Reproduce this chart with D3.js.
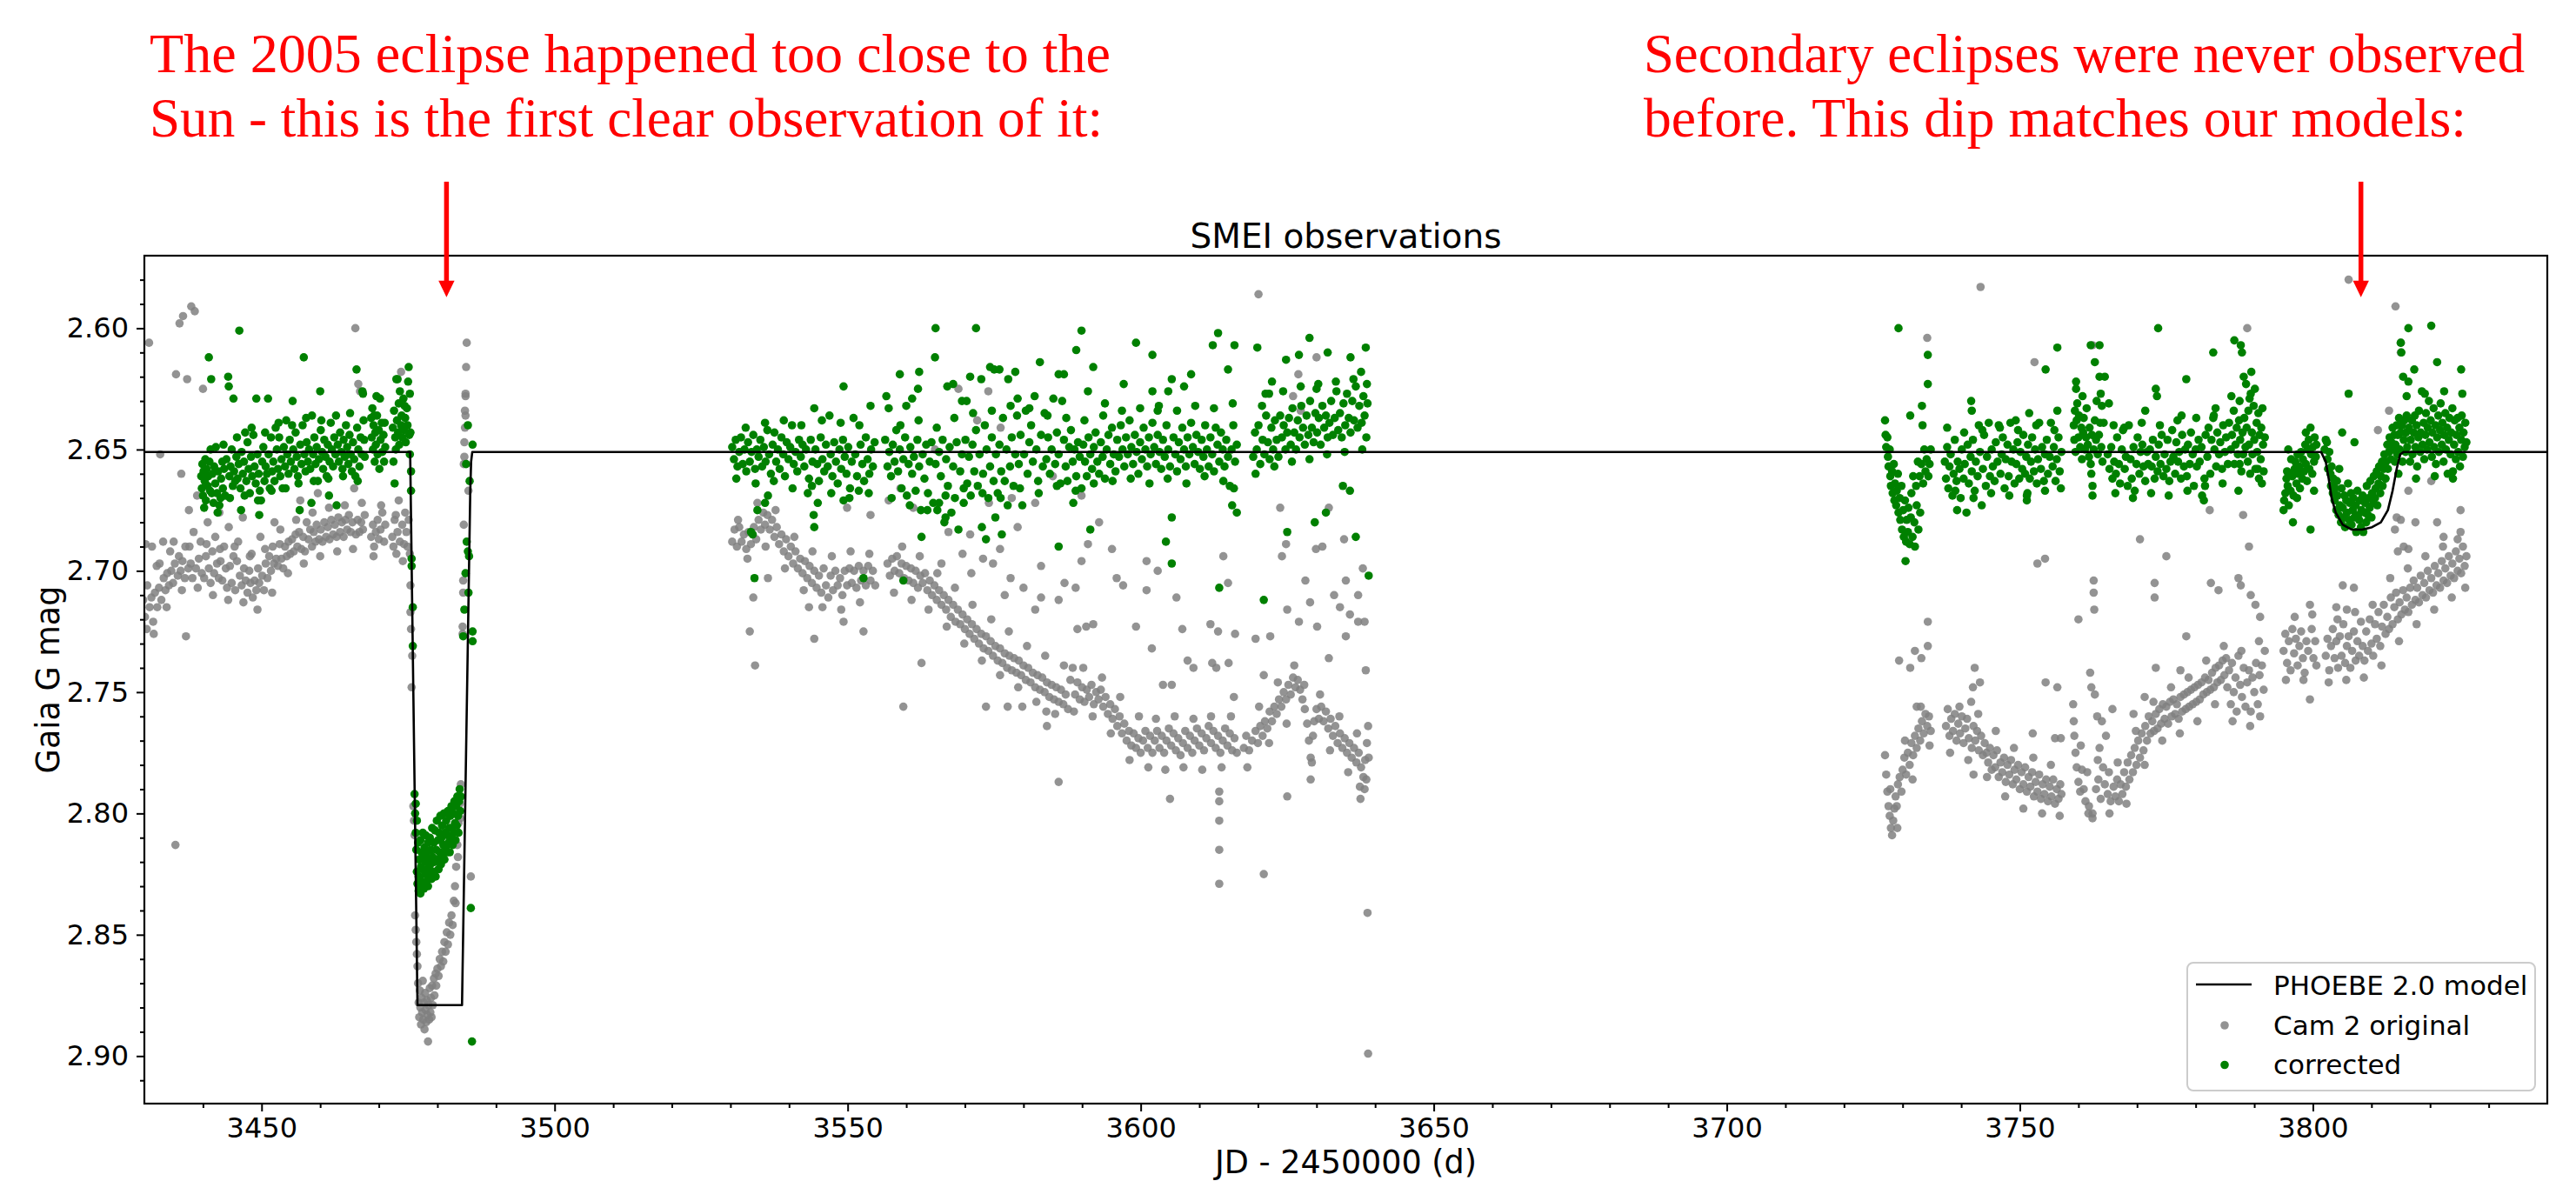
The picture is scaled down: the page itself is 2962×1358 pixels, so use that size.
<!DOCTYPE html>
<html>
<head>
<meta charset="utf-8">
<title>SMEI observations</title>
<script src="https://cdn.jsdelivr.net/npm/d3@7/dist/d3.min.js"></script>
<style>
  html, body { margin: 0; padding: 0; background: #ffffff; }
  svg { display: block; }
</style>
</head>
<body>
<svg id="chart" width="2962" height="1358" xmlns="http://www.w3.org/2000/svg"></svg>
<script>
// ---------------------------------------------------------------------------
// Photometry, JD - 2450000 (d) vs Gaia G mag.
// Each list is flat: jd, mag, jd, mag, ...
// ---------------------------------------------------------------------------

// Cam 2 original, first season (before the 2005 eclipse)
const camA = [
3429.2,2.716,3429.5,2.722,3429.8,2.712,3430.1,2.719,3430.2,2.689,3430.4,2.724,3430.8,2.606,3430.9,2.715,3431.2,2.711,3431.3,2.690,3431.5,2.721,3431.8,2.709,3432.1,2.698,3432.2,2.715,3432.5,2.707,3432.7,2.652,3432.9,2.712,3433.2,2.688,3433.3,2.703,3433.6,2.708,3433.9,2.701,3434.2,2.706,3434.4,2.692,3434.6,2.700,3434.9,2.705,3435.2,2.697,3435.3,2.813,3435.4,2.619,3435.7,2.702,3435.9,2.694,3436.0,2.598,3436.2,2.700,3436.3,2.660,3436.5,2.696,3436.6,2.595,3436.9,2.703,3437.0,2.690,3437.1,2.727,3437.3,2.621,3437.5,2.699,3437.6,2.675,3437.9,2.697,3438.0,2.591,3438.2,2.703,3438.4,2.684,3438.6,2.593,3438.8,2.699,3439.0,2.669,3439.3,2.695,3439.6,2.688,3439.8,2.701,3440.0,2.625,3440.2,2.703,3440.5,2.694,3440.8,2.680,3441.0,2.699,3441.3,2.705,3441.6,2.692,3441.9,2.701,3442.1,2.686,3442.4,2.697,3442.7,2.703,3442.8,2.676,3443.0,2.696,3443.3,2.704,3443.6,2.690,3443.9,2.699,3444.1,2.707,3444.4,2.682,3444.6,2.698,3444.9,2.705,3445.2,2.694,3445.5,2.708,3445.8,2.696,3446.0,2.688,3446.3,2.702,3446.6,2.706,3446.8,2.678,3447.0,2.699,3447.3,2.704,3447.6,2.709,3447.9,2.700,3448.1,2.705,3448.3,2.693,3448.5,2.711,3448.8,2.704,3449.1,2.708,3449.4,2.699,3449.6,2.705,3449.8,2.686,3450.1,2.702,3450.4,2.708,3450.7,2.697,3451.0,2.703,3451.3,2.694,3451.6,2.700,3451.9,2.690,3452.1,2.697,3452.2,2.680,3452.5,2.695,3452.8,2.698,3453.1,2.689,3453.4,2.695,3453.7,2.699,3454.0,2.690,3454.3,2.694,3454.6,2.688,3454.9,2.693,3455.2,2.687,3455.5,2.692,3455.8,2.685,3456.1,2.690,3456.4,2.684,3456.6,2.671,3456.8,2.691,3457.1,2.686,3457.4,2.692,3457.7,2.680,3458.0,2.687,3458.3,2.683,3458.6,2.690,3458.9,2.684,3459.2,2.688,3459.4,2.681,3459.6,2.668,3459.8,2.687,3460.1,2.683,3460.4,2.688,3460.7,2.680,3461.0,2.686,3461.3,2.682,3461.6,2.687,3461.9,2.679,3462.2,2.685,3462.5,2.681,3462.8,2.686,3463.1,2.678,3463.4,2.684,3463.7,2.680,3464.0,2.686,3464.3,2.679,3464.6,2.683,3464.9,2.677,3465.2,2.684,3465.5,2.680,3465.8,2.666,3466.0,2.600,3466.1,2.685,3466.4,2.679,3466.5,2.623,3466.7,2.684,3466.8,2.626,3467.0,2.680,3467.3,2.683,3467.6,2.677,3468.7,2.686,3469.0,2.681,3469.2,2.690,3469.5,2.684,3469.8,2.679,3470.0,2.687,3470.3,2.683,3470.6,2.676,3470.9,2.688,3471.1,2.681,3472.3,2.686,3472.5,2.690,3472.7,2.679,3473.0,2.693,3473.2,2.684,3473.4,2.671,3473.6,2.688,3473.8,2.618,3474.0,2.681,3474.3,2.689,3474.5,2.676,3474.7,2.684,3474.9,2.690,3475.1,2.679
];

// Cam 2 original, through the primary eclipse
const camEclipse = [
3475.3,2.693,3475.4,2.706,3475.4,2.717,3475.5,2.724,3475.6,2.748,3475.7,2.735,3475.9,2.797,3476.0,2.803,3476.1,2.809,3476.2,2.842,3476.3,2.848,3476.4,2.853,3476.5,2.858,3476.6,2.863,3476.7,2.870,3476.8,2.878,3476.9,2.884,3477.0,2.873,3477.1,2.880,3477.2,2.887,3477.3,2.876,3477.4,2.882,3477.5,2.869,3477.6,2.885,3477.7,2.878,3477.8,2.889,3477.9,2.874,3478.0,2.881,3478.1,2.886,3478.2,2.877,3478.3,2.883,3478.4,2.894,3478.5,2.879,3478.6,2.885,3478.7,2.872,3478.8,2.882,3478.9,2.876,3479.0,2.884,3479.1,2.871,3479.2,2.879,3479.4,2.868,3479.5,2.875,3479.7,2.866,3479.8,2.871,3480.0,2.864,3480.2,2.867,3480.4,2.860,3480.6,2.863,3480.8,2.857,3481.0,2.861,3481.2,2.853,3481.4,2.857,3481.6,2.849,3481.8,2.854,3482.0,2.845,3482.2,2.850,3482.4,2.842,3482.6,2.846,3482.8,2.836,3483.0,2.830,3483.1,2.837,3483.2,2.822,3483.4,2.813,3483.5,2.818,3483.6,2.804,3483.8,2.796,3483.9,2.802,3484.0,2.788,3484.3,2.723,3484.3,2.726,3484.4,2.709,3484.4,2.704,3484.5,2.681,3484.5,2.656,3484.6,2.653,3484.6,2.647,3484.7,2.641,3484.8,2.636,3484.7,2.634,3484.8,2.628,3484.8,2.627,3484.9,2.616,3485.0,2.606,3485.3,2.667,3485.7,2.826
];

// Cam 2 original, second season
const camB = [
3530.3,2.688,3530.7,2.683,3531.1,2.690,3531.5,2.682,3531.9,2.688,3532.3,2.685,3532.7,2.691,3533.1,2.684,3533.3,2.725,3533.5,2.689,3533.9,2.711,3534.0,2.682,3534.2,2.739,3534.4,2.687,3534.8,2.679,3535.2,2.683,3535.6,2.676,3535.9,2.681,3536.3,2.677,3536.4,2.703,3536.7,2.683,3537.1,2.679,3537.5,2.686,3537.9,2.682,3538.3,2.689,3538.7,2.685,3539.1,2.692,3539.5,2.687,3539.9,2.694,3540.3,2.690,3540.7,2.697,3541.1,2.692,3541.5,2.699,3541.9,2.695,3542.3,2.701,3542.7,2.696,3543.1,2.703,3543.4,2.715,3543.5,2.698,3543.9,2.705,3544.3,2.728,3544.3,2.700,3544.7,2.707,3545.1,2.702,3545.5,2.709,3545.9,2.699,3546.3,2.706,3546.7,2.711,3547.1,2.702,3547.5,2.708,3547.9,2.700,3548.3,2.706,3548.7,2.703,3549.1,2.710,3549.3,2.721,3549.5,2.700,3549.9,2.674,3549.9,2.706,3550.3,2.699,3550.7,2.705,3551.1,2.700,3551.5,2.707,3551.9,2.698,3552.3,2.704,3552.7,2.725,3552.7,2.700,3553.1,2.706,3553.5,2.698,3553.9,2.677,3553.9,2.704,3554.3,2.700,3554.7,2.706,
3556.8,2.697,3557.0,2.671,3557.2,2.702,3557.6,2.695,3558.0,2.700,3558.4,2.694,3558.8,2.701,3559.0,2.666,3559.2,2.697,3559.5,2.756,3559.6,2.703,3560.0,2.698,3560.4,2.704,3560.8,2.699,3561.2,2.674,3561.2,2.705,3561.6,2.700,3562.0,2.707,3562.4,2.702,3562.6,2.738,3562.8,2.705,3563.2,2.701,3563.6,2.708,3564.0,2.704,3564.4,2.710,3564.8,2.706,3564.9,2.650,3565.2,2.712,3565.6,2.708,3566.0,2.697,3566.0,2.714,3566.4,2.710,3566.8,2.716,3567.2,2.684,3567.2,2.712,3567.6,2.719,3568.0,2.714,3568.4,2.721,3568.8,2.716,3568.9,2.625,3569.2,2.722,3569.6,2.693,3569.6,2.718,3570.0,2.724,3570.4,2.720,3570.8,2.726,3570.9,2.685,3571.1,2.701,3571.2,2.722,3571.6,2.728,3572.0,2.724,3572.1,2.638,3572.4,2.730,3572.8,2.726,3573.1,2.695,3573.2,2.732,3573.6,2.756,3573.6,2.727,3574.0,2.626,3574.0,2.733,3574.1,2.672,3574.4,2.729,3574.8,2.697,3574.8,2.735,3575.2,2.731,3575.6,2.737,3576.0,2.732,3576.0,2.691,3576.1,2.641,3576.4,2.738,3576.8,2.710,3576.8,2.734,3577.2,2.740,3577.3,2.756,3577.6,2.735,3577.8,2.703,3578.0,2.670,3578.0,2.741,3578.4,2.736,3578.8,2.742,3579.0,2.682,3579.2,2.737,3579.6,2.743,3579.8,2.756,3580.0,2.707,3580.0,2.739,3580.4,2.745,3580.8,2.740,3581.2,2.746,3581.6,2.742,3582.0,2.672,3582.0,2.716,3582.0,2.748,3582.4,2.743,3582.8,2.749,3583.0,2.698,3583.0,2.711,3583.2,2.744,3583.6,2.750,3583.9,2.758,3584.0,2.764,3584.0,2.746,3584.4,2.752,3584.8,2.747,3585.0,2.661,3585.2,2.753,3585.6,2.748,3586.0,2.712,3586.0,2.787,3586.0,2.754,3586.4,2.749,3586.8,2.755,3587.0,2.705,3587.2,2.751,3587.6,2.757,3588.0,2.745,3588.4,2.740,3588.8,2.751,3588.9,2.707,3589.2,2.724,3589.2,2.746,3589.6,2.753,3589.9,2.669,3589.9,2.696,3590.0,2.748,3590.4,2.754,3590.7,2.723,3590.8,2.749,3591.0,2.689,3591.2,2.752,3591.6,2.747,3591.9,2.722,3592.0,2.755,3592.4,2.750,3592.8,2.753,3592.9,2.680,3593.2,2.749,3593.6,2.756,3594.0,2.752,3594.4,2.759,3594.8,2.755,3595.1,2.691,3595.2,2.761,3595.6,2.757,3595.9,2.703,3596.0,2.764,3596.4,2.760,3596.8,2.767,3597.0,2.706,3597.2,2.763,3597.6,2.770,3598.0,2.766,3598.4,2.772,3598.8,2.767,3599.2,2.723,3599.2,2.773,3599.6,2.769,3600.0,2.775,3600.4,2.770,3600.8,2.766,3601.0,2.696,3601.0,2.708,3601.2,2.773,3601.6,2.768,3601.9,2.732,3602.0,2.775,3602.4,2.770,3602.8,2.766,3602.9,2.700,3603.2,2.773,3603.6,2.768,3603.8,2.747,3604.0,2.775,3604.4,2.770,3604.8,2.765,3605.0,2.794,3605.2,2.772,3605.3,2.747,3605.6,2.767,3606.0,2.774,3606.1,2.711,3606.4,2.769,3606.8,2.776,3607.1,2.724,3607.2,2.771,3607.6,2.766,3608.0,2.773,3608.0,2.737,3608.4,2.768,3608.8,2.775,3609.0,2.740,3609.2,2.770,3609.6,2.765,3610.0,2.772,3610.4,2.767,3610.8,2.774,3611.2,2.769,3611.6,2.764,3611.9,2.722,3612.0,2.771,3612.2,2.738,3612.4,2.766,3612.8,2.773,3612.9,2.740,3613.2,2.725,3613.2,2.768,3613.4,2.791,3613.4,2.795,3613.4,2.803,3613.4,2.815,3613.4,2.829,3613.6,2.775,3614.0,2.770,3614.1,2.694,3614.4,2.765,3614.8,2.772,3614.9,2.705,3615.0,2.738,3615.2,2.767,3615.6,2.774,3615.9,2.752,3616.0,2.769,3616.1,2.726,3616.4,2.775,3617.6,2.773,3618.0,2.768,3618.5,2.774,3619.0,2.770,3619.6,2.728,3619.6,2.766,3620.0,2.771,3620.1,2.586,3620.4,2.764,3620.8,2.768,3621.0,2.743,3621.0,2.825,3621.2,2.762,3621.6,2.765,3622.0,2.758,3622.1,2.727,3622.4,2.762,3622.8,2.756,3623.2,2.759,3623.6,2.753,3623.8,2.674,3624.0,2.756,3624.1,2.694,3624.4,2.750,3624.8,2.689,3624.8,2.753,3625.0,2.716,3625.0,2.793,3625.2,2.747,3625.6,2.751,3626.0,2.744,3626.0,2.628,3626.4,2.748,3626.8,2.745,3626.9,2.619,3627.0,2.721,3627.2,2.749,3627.3,2.634,3627.6,2.753,3628.0,2.757,3628.1,2.704,3628.4,2.763,3628.7,2.770,3628.9,2.713,3629.0,2.777,3629.2,2.779,3629.4,2.768,3629.6,2.762,3629.9,2.691,3630.0,2.612,3630.0,2.757,3630.1,2.723,3630.4,2.761,3630.8,2.756,3631.0,2.690,3631.2,2.762,3631.6,2.758,3632.0,2.765,3632.1,2.674,3632.1,2.736,3632.4,2.761,3632.8,2.768,3633.0,2.710,3633.2,2.764,3633.6,2.771,3634.0,2.767,3634.0,2.715,3634.4,2.773,3634.7,2.687,3634.8,2.769,3635.0,2.704,3635.0,2.727,3635.2,2.775,3635.6,2.771,3635.7,2.718,3636.0,2.777,3636.4,2.773,3636.8,2.779,3637.1,2.710,3637.1,2.721,3637.2,2.775,3637.4,2.789,3637.5,2.794,3637.6,2.781,3637.9,2.699,3638.0,2.785,3638.2,2.721,3638.2,2.790,3638.4,2.741,3638.5,2.786,3638.6,2.771,3638.7,2.841,3638.8,2.899,3638.8,2.764,3638.9,2.777
];

// Cam 2 original, third season
const camC = [
3727.0,2.776,3727.2,2.784,3727.4,2.791,3727.6,2.797,3727.8,2.801,3728.0,2.806,3728.2,2.809,3728.4,2.803,3728.6,2.798,3728.8,2.793,3729.0,2.797,3729.2,2.788,3729.4,2.737,3729.5,2.785,3729.8,2.791,3730.0,2.782,3730.3,2.777,3730.6,2.784,3730.9,2.775,3731.2,2.780,3731.3,2.740,3731.5,2.771,3731.8,2.776,3732.1,2.733,3732.1,2.768,3732.4,2.756,3732.4,2.773,3732.7,2.765,3733.0,2.770,3733.2,2.736,3733.3,2.762,3733.6,2.767,3733.9,2.759,3734.2,2.604,3734.2,2.764,3734.3,2.721,3734.3,2.731,3734.5,2.760,3734.8,2.766,
3737.4,2.764,3737.7,2.757,3738.0,2.768,3738.3,2.761,3738.6,2.766,3738.9,2.759,3739.2,2.770,3739.5,2.763,3739.8,2.767,3740.1,2.760,3740.4,2.771,3740.7,2.765,3741.0,2.761,3741.3,2.769,3741.7,2.754,3741.8,2.773,3742.0,2.748,3742.1,2.784,3742.1,2.764,3742.3,2.740,3742.4,2.770,3742.7,2.766,3743.0,2.774,3743.2,2.746,3743.3,2.583,3743.4,2.768,3743.7,2.776,3744.0,2.771,3744.3,2.775,3744.6,2.779,3744.9,2.773,3745.2,2.782,3745.5,2.776,3745.8,2.781,3746.1,2.774,3746.4,2.785,3746.7,2.779,3747.0,2.783,3747.3,2.777,3747.6,2.787,3747.9,2.780,3748.2,2.784,3748.5,2.778,3748.8,2.788,3749.1,2.782,3749.4,2.786,3749.7,2.780,3750.0,2.790,3750.3,2.783,3750.6,2.788,3750.9,2.781,3751.2,2.791,3751.5,2.785,3751.8,2.789,3752.1,2.783,3752.2,2.767,3752.4,2.793,3752.5,2.614,3752.7,2.787,3753.0,2.697,3753.0,2.791,3753.3,2.784,3753.6,2.794,3753.9,2.788,3754.2,2.792,3754.3,2.695,3754.4,2.746,3754.5,2.786,3754.8,2.795,3755.1,2.789,3755.4,2.793,3755.7,2.786,3756.0,2.796,3756.0,2.769,3756.3,2.790,3756.4,2.748,3756.6,2.794,3756.9,2.788,3757.0,2.769,3757.1,2.792,
3759.1,2.755,3759.2,2.762,3759.3,2.768,3759.5,2.775,3759.7,2.781,3760.0,2.720,3760.0,2.787,3760.3,2.791,3760.6,2.782,3760.9,2.790,3761.2,2.795,3761.5,2.783,3761.8,2.797,3762.0,2.742,3762.2,2.748,3762.4,2.607,3762.4,2.800,3762.4,2.802,3762.6,2.704,3762.6,2.709,3762.7,2.716,3762.8,2.751,3763.0,2.790,3763.2,2.760,3763.4,2.786,3763.6,2.773,3763.8,2.794,3764.0,2.762,3764.2,2.781,3764.5,2.788,3764.7,2.768,3765.0,2.792,3765.2,2.783,3765.5,2.795,3765.8,2.757,3766.0,2.789,3766.3,2.793,3766.6,2.786,3766.9,2.795,3767.2,2.788,3767.5,2.792,3767.8,2.783,3768.1,2.789,3768.4,2.779,3768.7,2.786,3769.0,2.776,3769.3,2.783,3769.4,2.759,3769.6,2.773,3769.9,2.780,3770.2,2.770,3770.5,2.687,3770.5,2.777,3770.8,2.767,3771.1,2.774,3771.3,2.752,3771.4,2.764,3771.7,2.770,3772.0,2.760,3772.3,2.767,3772.6,2.762,3772.9,2.766,3773.0,2.705,3773.0,2.711,3773.2,2.740,3773.2,2.759,3773.5,2.765,3773.8,2.757,3774.1,2.763,3774.4,2.755,3774.7,2.761,3775.0,2.694,3775.0,2.756,3775.3,2.763,3775.6,2.754,3775.9,2.760,3776.2,2.753,3776.5,2.759,3776.8,2.755,3777.1,2.761,3777.4,2.741,3777.4,2.752,3777.7,2.758,3778.0,2.751,3778.3,2.757,3778.4,2.727,3778.6,2.750,3778.9,2.756,3779.2,2.749,3779.5,2.755,3779.8,2.748,3780.1,2.754,3780.4,2.747,3780.7,2.753,3781.0,2.746,3781.3,2.751,3781.6,2.744,3781.9,2.750,3782.2,2.745,3782.4,2.675,3782.5,2.749,3782.6,2.705,3782.8,2.742,3783.1,2.748,3783.4,2.740,3783.7,2.746,3783.9,2.708,3784.0,2.739,3784.3,2.745,3784.6,2.737,3784.9,2.743,3785.2,2.736,
3785.4,2.748,3785.7,2.741,3786.0,2.755,3786.2,2.738,3786.5,2.750,3786.8,2.744,3787.0,2.758,3787.3,2.703,3787.3,2.735,3787.6,2.747,3787.7,2.706,3787.9,2.752,3788.1,2.677,3788.2,2.740,3788.5,2.756,3788.8,2.600,3788.8,2.746,3789.1,2.690,3789.1,2.741,3789.4,2.710,3789.4,2.758,3789.7,2.744,3790.0,2.750,3790.2,2.714,3790.3,2.738,3790.6,2.755,3790.9,2.743,3791.0,2.719,3791.0,2.760,3791.3,2.739,3791.6,2.749,3791.8,2.733,
3795.0,2.733,3795.3,2.726,3795.6,2.738,3795.9,2.729,3796.2,2.741,3796.5,2.724,3796.8,2.734,3797.1,2.728,3797.4,2.739,3797.7,2.731,3798.0,2.725,3798.3,2.736,3798.6,2.742,3798.9,2.729,3799.2,2.733,3799.5,2.714,3799.5,2.753,3799.8,2.724,3800.1,2.736,3800.4,2.729,3800.6,2.739,
3802.2,2.735,3802.5,2.728,3802.8,2.741,3803.1,2.731,3803.4,2.724,3803.7,2.736,3804.0,2.715,3804.0,2.729,3804.3,2.740,3804.6,2.727,3804.9,2.735,3805.1,2.706,3805.2,2.722,3805.5,2.738,3805.8,2.716,3805.8,2.731,3806.1,2.580,3806.1,2.727,3806.4,2.740,3806.7,2.733,3807.0,2.707,3807.0,2.725,3807.3,2.737,3807.6,2.729,3807.9,2.735,3808.2,2.721,3808.5,2.731,3808.8,2.737,3809.1,2.725,3809.4,2.733,3809.7,2.720,3810.0,2.730,3810.3,2.735,3810.6,2.722,3810.9,2.728,3811.1,2.642,3811.2,2.717,3811.5,2.731,3811.8,2.723,3812.1,2.714,3812.4,2.726,3812.7,2.719,3813.0,2.634,3813.0,2.724,3813.3,2.711,3813.6,2.722,3813.9,2.715,3814.0,2.683,3814.1,2.591,3814.2,2.709,3814.3,2.678,3814.5,2.692,3814.5,2.720,3814.8,2.713,3815.0,2.606,3815.0,2.610,3815.0,2.679,3815.1,2.718,3815.4,2.708,3815.5,2.690,3815.7,2.716,3816.0,2.711,3816.3,2.667,3816.3,2.691,3816.3,2.717,3816.6,2.707,3816.9,2.714,3817.2,2.704,3817.5,2.680,3817.5,2.712,3817.8,2.707,3818.1,2.713,3818.4,2.702,3818.7,2.710,3819.0,2.705,3819.3,2.711,3819.6,2.700,3819.9,2.708,3820.2,2.663,3820.2,2.703,3820.5,2.709,3820.8,2.698,3821.1,2.706,3821.2,2.680,3821.4,2.701,3821.7,2.707,3822.0,2.696,3822.3,2.686,3822.3,2.704,3822.6,2.699,3822.9,2.705,3823.2,2.694,3823.5,2.702,3823.8,2.697,3824.1,2.703,3824.4,2.692,3824.7,2.687,3824.7,2.700,3825.0,2.695,3825.2,2.675,3825.3,2.701,3825.6,2.690,3825.9,2.698,3826.2,2.694
];

// Cam 2 original, further points on the edges of the band (all seasons)
const camSpread = [
3430.5,2.706,3431.6,2.726,3432.6,2.697,3433.8,2.715,3435.0,2.688,3436.4,2.708,3437.7,2.690,3439.1,2.707,3440.6,2.689,3441.7,2.710,3442.9,2.691,3444.3,2.712,3445.4,2.690,3446.9,2.713,3448.0,2.694,3449.3,2.716,3450.6,2.691,3451.8,2.709,3453.2,2.683,3454.5,2.701,3455.9,2.679,3457.2,2.697,3458.7,2.676,3460.0,2.694,3461.5,2.674,3462.9,2.692,3464.2,2.673,3465.6,2.691,3467.1,2.672,3469.1,2.694,3470.4,2.673,3472.9,2.677,3474.1,2.696,
3531.3,2.679,3532.9,2.695,3534.6,2.672,3536.0,2.690,3537.7,2.675,3539.3,2.699,3540.9,2.686,3542.5,2.708,3544.0,2.692,3545.7,2.715,3547.3,2.694,3548.9,2.716,3550.5,2.692,3552.1,2.713,3553.7,2.693,3557.9,2.709,3559.3,2.690,3560.9,2.712,3562.3,2.694,3563.8,2.716,3565.3,2.701,3566.9,2.723,3568.3,2.707,3569.9,2.730,3571.3,2.714,3572.9,2.737,3574.5,2.720,3576.0,2.743,3577.5,2.725,3579.1,2.748,3580.6,2.731,3582.2,2.754,3583.7,2.735,3585.4,2.759,3586.9,2.739,3588.6,2.758,3590.2,2.740,3591.8,2.760,3593.4,2.744,3594.9,2.767,3596.5,2.752,3598.1,2.778,3599.7,2.760,3601.3,2.781,3602.6,2.761,3604.2,2.782,3605.8,2.760,3607.3,2.781,3609.0,2.761,3610.5,2.782,3612.0,2.760,3613.8,2.781,3615.4,2.760,3618.2,2.781,3620.2,2.756,3621.9,2.771,3623.4,2.746,3624.9,2.763,3626.2,2.739,3627.9,2.747,3629.0,2.786,3630.6,2.751,3632.3,2.774,3633.9,2.760,3635.4,2.783,3636.9,2.767,3638.3,2.778,
3727.9,2.790,3729.1,2.806,3730.4,2.770,3731.7,2.786,3733.1,2.756,3734.6,2.772,3738.1,2.775,3739.7,2.756,3741.2,2.778,3742.9,2.759,3744.4,2.785,3745.9,2.766,3747.5,2.793,3749.0,2.773,3750.6,2.798,3752.3,2.777,3753.8,2.800,3755.3,2.780,3756.8,2.801,3760.4,2.772,3761.7,2.800,3763.3,2.778,3765.3,2.800,3766.7,2.779,3768.2,2.796,3769.8,2.766,3771.3,2.780,3772.8,2.754,3774.3,2.770,3775.8,2.748,3777.3,2.767,3778.8,2.744,3780.3,2.762,3781.8,2.737,3783.3,2.755,3784.8,2.731,3786.3,2.762,3787.8,2.733,3789.3,2.764,3790.8,2.729,3795.4,2.745,3796.9,2.719,3798.4,2.745,3799.9,2.718,3802.7,2.746,3804.2,2.720,3805.7,2.745,3807.2,2.717,3808.7,2.744,3810.2,2.714,3811.7,2.739,3813.2,2.703,3814.7,2.729,3816.2,2.699,3817.7,2.722,3819.2,2.694,3820.7,2.716,3822.2,2.690,3823.7,2.711,3825.2,2.684,3826.0,2.707
];

// Corrected, first season
const corA = [
3439.7,2.661,3439.8,2.666,3439.9,2.656,3440.0,2.669,3440.1,2.659,3440.3,2.663,3440.4,2.654,3440.5,2.671,3440.6,2.658,3440.8,2.665,3440.9,2.661,3441.0,2.612,3441.1,2.655,3441.2,2.667,3441.4,2.621,3441.5,2.668,3441.6,2.660,3441.8,2.672,3441.9,2.657,3442.1,2.664,3442.2,2.649,3442.4,2.668,3442.6,2.659,3442.8,2.673,3443.0,2.670,3443.1,2.662,3443.3,2.655,3443.4,2.666,3443.6,2.658,3443.8,2.669,3444.0,2.654,3444.3,2.620,3444.4,2.624,3444.5,2.661,3444.7,2.657,3444.9,2.650,3445.1,2.665,3445.2,2.629,3445.3,2.659,3445.5,2.663,3445.7,2.653,3445.9,2.662,3446.1,2.656,3446.2,2.601,3446.4,2.666,3446.5,2.675,3446.6,2.651,3446.8,2.660,3447.0,2.655,3447.2,2.643,3447.4,2.663,3447.6,2.647,3447.8,2.658,3448.0,2.668,3448.2,2.653,3448.4,2.661,3448.6,2.644,3448.8,2.657,3449.0,2.664,3449.1,2.629,3449.3,2.652,3449.5,2.660,3449.6,2.677,3449.7,2.667,3449.9,2.671,3450.1,2.655,3450.3,2.649,3450.5,2.663,3450.7,2.657,3450.9,2.660,3451.1,2.629,3451.2,2.652,3451.4,2.666,3451.6,2.645,3451.8,2.659,3452.0,2.655,3452.2,2.663,3452.4,2.641,3452.6,2.650,3452.8,2.658,3453.0,2.645,3453.2,2.661,3453.4,2.654,3453.6,2.666,3453.8,2.649,3454.0,2.657,3454.2,2.638,3454.4,2.652,3454.6,2.660,3454.8,2.646,3455.0,2.655,3455.3,2.630,3455.4,2.650,3455.6,2.658,3455.8,2.643,3456.0,2.653,3456.2,2.661,3456.5,2.675,3456.6,2.648,3456.8,2.656,3457.0,2.640,3457.2,2.612,3457.3,2.652,3457.5,2.659,3457.7,2.647,3457.9,2.655,3458.1,2.650,3458.3,2.658,3458.5,2.672,3458.6,2.636,3458.8,2.652,3459.0,2.645,3459.2,2.656,3459.4,2.649,3459.6,2.663,3459.8,2.654,3460.0,2.626,3460.1,2.642,3460.3,2.651,3460.5,2.658,3460.7,2.646,3460.9,2.653,3461.1,2.661,3461.3,2.648,3461.5,2.669,3461.6,2.655,3461.8,2.639,3462.0,2.650,3462.2,2.657,3462.4,2.645,3462.6,2.652,3462.8,2.673,3463.0,2.648,3463.2,2.655,3463.4,2.643,3463.6,2.651,3463.8,2.658,3464.0,2.646,3464.2,2.653,3464.4,2.640,3464.6,2.649,3464.8,2.656,3465.0,2.644,3465.2,2.652,3465.4,2.659,3465.6,2.647,3465.8,2.654,3466.0,2.661,3466.2,2.617,3466.3,2.641,3466.5,2.650,3466.7,2.657,3466.9,2.645,3467.1,2.652,3467.2,2.626,3467.3,2.627,3467.5,2.646,3467.6,2.653,3468.7,2.637,3468.8,2.645,3468.9,2.633,3469.0,2.650,3469.1,2.640,3469.2,2.636,3469.3,2.655,3469.4,2.643,3469.5,2.648,3469.7,2.636,3469.8,2.652,3470.0,2.642,3470.1,2.658,3470.2,2.629,3470.3,2.646,3470.5,2.639,3470.6,2.651,3470.8,2.644,3471.0,2.639,3471.1,2.649,3472.4,2.641,3472.5,2.655,3472.6,2.634,3472.7,2.664,3472.8,2.645,3473.0,2.621,3473.1,2.638,3473.2,2.621,3473.3,2.643,3473.4,2.631,3473.5,2.648,3473.6,2.626,3473.8,2.640,3473.9,2.636,3474.0,2.645,3474.2,2.629,3474.3,2.642,3474.5,2.637,3474.6,2.647,3474.8,2.633,3474.9,2.640,3475.0,2.622,3475.1,2.616,3475.2,2.644,3475.3,2.627,3475.4,2.643
];

// Corrected, through the primary eclipse
const corEclipse = [
3475.5,2.659,3475.5,2.667,3475.6,2.695,3475.6,2.698,3475.8,2.715,3475.8,2.731,3476.1,2.792,3476.2,2.800,3476.3,2.796,3476.3,2.808,3476.4,2.815,3476.5,2.824,3476.5,2.803,3476.6,2.829,3476.7,2.812,3476.8,2.826,3476.8,2.832,3476.9,2.819,3477.0,2.827,3477.1,2.811,3477.1,2.833,3477.2,2.822,3477.3,2.816,3477.4,2.829,3477.5,2.808,3477.5,2.823,3477.6,2.818,3477.7,2.831,3477.8,2.814,3477.9,2.825,3478.0,2.820,3478.0,2.809,3478.1,2.828,3478.2,2.816,3478.3,2.823,3478.4,2.812,3478.4,2.830,3478.5,2.819,3478.6,2.826,3478.7,2.810,3478.8,2.821,3478.9,2.815,3479.0,2.827,3479.1,2.806,3479.2,2.818,3479.3,2.824,3479.4,2.812,3479.5,2.820,3479.6,2.807,3479.7,2.826,3479.8,2.815,3479.9,2.803,3480.0,2.819,3480.1,2.811,3480.2,2.823,3480.3,2.808,3480.4,2.816,3480.5,2.801,3480.6,2.821,3480.7,2.810,3480.8,2.805,3480.9,2.817,3481.0,2.813,3481.1,2.800,3481.2,2.819,3481.3,2.808,3481.4,2.814,3481.5,2.803,3481.6,2.816,3481.7,2.809,3481.8,2.799,3481.9,2.812,3482.0,2.806,3482.1,2.816,3482.2,2.801,3482.3,2.810,3482.4,2.797,3482.5,2.806,3482.6,2.813,3482.7,2.800,3482.8,2.808,3482.9,2.795,3483.0,2.804,3483.1,2.811,3483.2,2.797,3483.3,2.805,3483.4,2.793,3483.5,2.801,3483.6,2.808,3483.7,2.795,3483.8,2.790,3483.9,2.799,3484.0,2.793,
3484.4,2.727,3484.6,2.716,3484.8,2.701,3485.0,2.688,3485.2,2.692,3485.3,2.709,3485.4,2.694,3485.5,2.663,3484.9,2.656,3485.2,2.640,3486.0,2.648,3486.0,2.725,3486.0,2.729,3485.7,2.839,3485.9,2.894
];

// Corrected, second season
const corB = [
3530.3,2.649,3530.6,2.654,3530.9,2.646,3531.2,2.657,3531.5,2.651,3531.8,2.645,3532.1,2.656,3532.4,2.650,3532.7,2.659,3533.0,2.647,3533.3,2.655,3533.5,2.684,3533.6,2.651,3533.8,2.685,3533.9,2.644,3534.1,2.703,3534.2,2.658,3534.5,2.650,3534.6,2.675,3534.8,2.653,3535.1,2.646,3535.4,2.657,3535.7,2.649,3535.9,2.672,3536.0,2.655,3536.3,2.642,3536.4,2.669,3536.6,2.652,3536.9,2.660,3537.2,2.648,3537.5,2.643,3537.8,2.655,3538.1,2.650,3538.4,2.658,3538.7,2.645,3539.0,2.652,3539.3,2.661,3539.6,2.647,3539.9,2.654,3540.2,2.649,3540.5,2.640,3540.8,2.656,3541.1,2.651,3541.4,2.659,3541.7,2.646,3542.0,2.653,3542.3,2.648,3542.6,2.657,3542.9,2.650,3543.2,2.668,3543.4,2.662,3543.7,2.646,3544.0,2.655,3544.2,2.677,3544.3,2.682,3544.3,2.633,3544.5,2.650,3544.8,2.656,3544.9,2.672,3545.1,2.663,3545.4,2.645,3545.7,2.654,3546.0,2.659,3546.3,2.648,3546.6,2.657,3546.9,2.636,3547.1,2.652,3547.4,2.661,3547.7,2.647,3548.0,2.655,3548.3,2.664,3548.6,2.650,3548.9,2.658,3549.2,2.646,3549.3,2.624,3549.3,2.671,3549.5,2.653,3549.8,2.660,3550.1,2.649,3550.4,2.666,3550.7,2.655,3551.0,2.637,3551.3,2.652,3551.6,2.661,3551.9,2.667,3552.2,2.648,3552.5,2.656,3552.7,2.703,3552.8,2.663,3553.1,2.645,3553.4,2.654,3553.7,2.660,3553.9,2.632,3554.0,2.650,3554.3,2.657,3554.6,2.647,
3556.4,2.646,3556.6,2.628,3556.8,2.657,3557.0,2.633,3557.1,2.651,3557.4,2.661,3557.7,2.648,3558.0,2.655,3558.3,2.642,3558.6,2.659,3558.9,2.619,3558.9,2.650,3559.2,2.666,3559.5,2.704,3559.5,2.654,3559.8,2.645,3560.0,2.632,3560.1,2.669,3560.4,2.656,3560.7,2.649,3561.0,2.629,3561.0,2.660,3561.3,2.653,3561.6,2.667,3561.9,2.646,3562.0,2.625,3562.2,2.618,3562.2,2.657,3562.5,2.675,3562.6,2.686,3562.8,2.652,3563.1,2.662,3563.4,2.648,3563.7,2.668,3564.0,2.655,3564.3,2.647,3564.6,2.672,3564.9,2.612,3565.0,2.600,3565.0,2.656,3565.3,2.675,3565.6,2.672,3565.6,2.651,3565.9,2.661,3566.2,2.646,3566.5,2.680,3566.7,2.678,3566.8,2.654,3567.0,2.624,3567.1,2.665,3567.4,2.649,3567.7,2.676,3568.0,2.623,3568.0,2.657,3568.3,2.670,3568.6,2.647,3568.9,2.683,3569.2,2.659,3569.5,2.630,3569.5,2.652,3569.8,2.672,3570.1,2.646,3570.3,2.630,3570.4,2.664,3570.7,2.653,3570.9,2.620,3571.0,2.669,3571.3,2.648,3571.6,2.659,3571.9,2.600,3571.9,2.642,3572.2,2.665,3572.5,2.652,3572.8,2.621,3572.9,2.682,3573.1,2.660,3573.4,2.640,3573.6,2.687,3573.7,2.650,3574.0,2.670,3574.3,2.616,3574.3,2.657,3574.6,2.645,3574.9,2.663,3575.0,2.617,3575.2,2.678,3575.3,2.652,3575.6,2.668,3575.9,2.617,3575.9,2.648,3576.2,2.659,3576.3,2.685,3576.5,2.637,3576.8,2.663,3577.1,2.650,3577.3,2.673,3577.4,2.621,3577.7,2.657,3578.0,2.645,3578.3,2.665,3578.6,2.618,3578.6,2.652,3578.9,2.636,3579.0,2.629,3579.2,2.656,3579.5,2.644,3579.8,2.673,3580.1,2.652,3580.4,2.634,3580.7,2.660,3581.0,2.647,3581.3,2.640,3581.6,2.655,3581.9,2.628,3582.2,2.650,3582.5,2.663,3582.8,2.614,3583.0,2.644,3583.3,2.657,3583.6,2.635,3583.9,2.654,3584.2,2.645,3584.5,2.660,3584.8,2.650,3585.1,2.629,3585.4,2.656,3585.7,2.643,3586.0,2.619,3586.0,2.652,3586.0,2.690,3586.3,2.664,3586.6,2.630,3586.9,2.619,3586.9,2.646,3587.2,2.657,3587.5,2.663,3587.8,2.649,3588.1,2.642,3588.4,2.655,3588.5,2.672,3588.7,2.650,3589.0,2.609,3589.0,2.661,3589.3,2.647,3589.6,2.653,3589.9,2.601,3589.9,2.666,3590.2,2.648,3590.5,2.655,3590.8,2.661,3591.0,2.626,3591.1,2.645,3591.4,2.683,3591.4,2.652,3591.7,2.658,3591.9,2.616,3592.0,2.649,3592.3,2.643,3592.6,2.655,3592.9,2.660,3593.2,2.647,3593.5,2.653,3593.9,2.631,3593.9,2.662,3594.2,2.650,3594.5,2.644,3594.8,2.656,3595.1,2.641,3595.4,2.652,3595.7,2.659,3596.0,2.646,3596.3,2.653,3596.6,2.640,3596.9,2.650,3597.1,2.623,3597.2,2.657,3597.5,2.645,3597.8,2.652,3598.1,2.638,3598.4,2.649,3598.7,2.656,3599.0,2.644,3599.2,2.606,3599.3,2.651,3599.6,2.660,3599.9,2.647,3600.2,2.654,3600.5,2.641,3600.8,2.650,3601.1,2.657,3601.4,2.645,3601.7,2.652,3602.0,2.611,3602.0,2.626,3602.0,2.639,3602.3,2.649,3602.6,2.656,3602.9,2.634,3602.9,2.644,3603.2,2.651,3603.5,2.658,3603.8,2.646,3604.1,2.653,3604.3,2.688,3604.4,2.640,3604.7,2.650,3604.7,2.626,3605.0,2.657,3605.3,2.697,3605.3,2.678,3605.3,2.621,3605.6,2.645,3605.9,2.652,3606.2,2.659,3606.5,2.647,3606.8,2.654,3607.1,2.641,3607.4,2.624,3607.4,2.650,3607.7,2.657,3608.0,2.645,3608.3,2.652,3608.6,2.619,3608.6,2.639,3608.9,2.649,3609.2,2.656,3609.5,2.644,3609.8,2.651,3610.1,2.658,3610.4,2.646,3610.7,2.653,3611.0,2.640,3611.3,2.650,3611.6,2.657,3611.9,2.645,3612.2,2.652,3612.3,2.607,3612.5,2.659,3612.8,2.641,3613.1,2.648,3613.2,2.602,3613.4,2.707,3613.4,2.655,3613.7,2.643,3614.0,2.650,3614.3,2.657,3614.6,2.646,3614.9,2.617,3614.9,2.653,3615.2,2.665,3615.5,2.650,3615.6,2.673,3615.8,2.640,3615.9,2.666,3616.0,2.607,3616.1,2.655,3616.4,2.676,3616.4,2.648,
3619.2,2.653,3619.5,2.643,3619.8,2.650,3619.9,2.608,3620.1,2.640,3620.4,2.656,3620.7,2.632,3620.8,2.646,3621.0,2.712,3621.1,2.652,3621.4,2.636,3621.7,2.647,3621.9,2.627,3622.0,2.654,3622.3,2.641,3622.4,2.622,3622.6,2.650,3622.9,2.638,3623.2,2.646,3623.5,2.653,3623.8,2.636,3624.1,2.645,3624.4,2.640,3624.7,2.650,3624.8,2.613,3625.0,2.684,3625.0,2.643,3625.3,2.637,3625.6,2.648,3625.9,2.633,3626.2,2.643,3626.5,2.650,3626.8,2.638,3627.0,2.611,3627.1,2.645,3627.4,2.632,3627.7,2.641,3628.0,2.648,3628.3,2.636,3628.6,2.644,3628.8,2.604,3628.9,2.630,3629.2,2.641,3629.5,2.647,3629.7,2.680,3629.8,2.635,3630.0,2.625,3630.1,2.643,3630.4,2.637,3630.7,2.648,3631.0,2.632,3631.3,2.641,3631.6,2.676,3631.6,2.636,3631.9,2.610,3631.9,2.645,3632.2,2.639,3632.5,2.630,3632.8,2.644,3633.1,2.637,3633.4,2.626,3633.7,2.642,3634.0,2.635,3634.3,2.645,3634.5,2.665,3634.6,2.631,3634.9,2.640,3635.2,2.627,3635.5,2.637,3635.7,2.667,3635.8,2.612,3635.8,2.643,3636.1,2.630,3636.4,2.638,3636.7,2.686,3636.7,2.624,3637.0,2.641,3637.3,2.632,3637.6,2.618,3637.7,2.639,3638.0,2.628,3638.2,2.636,3638.4,2.608,3638.5,2.645,3638.7,2.631,3638.9,2.702
];

// Corrected, third season (secondary eclipse near 3808)
const corC = [
3727.0,2.638,3727.1,2.644,3727.2,2.649,3727.4,2.645,3727.5,2.653,3727.6,2.657,3727.8,2.650,3727.9,2.661,3728.0,2.665,3728.2,2.659,3728.3,2.668,3728.5,2.656,3728.6,2.671,3728.7,2.664,3728.9,2.673,3729.0,2.667,3729.2,2.660,3729.3,2.600,3729.3,2.676,3729.5,2.670,3729.6,2.679,3729.8,2.665,3729.9,2.683,3730.1,2.675,3730.2,2.686,3730.4,2.671,3730.5,2.696,3730.6,2.688,3730.7,2.679,3730.9,2.684,3731.0,2.674,3731.2,2.689,3731.3,2.636,3731.4,2.678,3731.5,2.668,3731.7,2.686,3731.8,2.661,3732.0,2.680,3732.1,2.690,3732.3,2.665,3732.4,2.673,3732.6,2.655,3732.7,2.683,3732.9,2.661,3733.0,2.676,3733.2,2.656,3733.3,2.632,3733.4,2.640,3733.5,2.664,3733.7,2.650,3733.9,2.659,3734.1,2.654,3734.3,2.611,3734.3,2.623,3734.4,2.661,3734.6,2.656,3734.8,2.650,
3737.2,2.655,3737.4,2.662,3737.6,2.649,3737.8,2.666,3738.0,2.657,3738.2,2.652,3738.5,2.669,3738.7,2.660,3738.9,2.646,3739.2,2.663,3739.3,2.675,3739.4,2.655,3739.7,2.658,3739.9,2.670,3740.1,2.650,3740.4,2.662,3740.6,2.656,3740.9,2.676,3741.1,2.648,3741.3,2.664,3741.6,2.653,3741.7,2.630,3741.8,2.634,3741.8,2.659,3742.0,2.646,3742.3,2.667,3742.5,2.655,3742.8,2.661,3743.0,2.640,3743.2,2.651,3743.5,2.673,3743.7,2.658,3743.9,2.644,3744.2,2.665,3744.4,2.653,3744.7,2.639,3744.9,2.661,3745.2,2.650,3745.4,2.657,3745.7,2.663,3745.9,2.647,3746.2,2.655,3746.4,2.640,3746.7,2.660,3746.9,2.652,3747.1,2.645,3747.4,2.666,3747.6,2.654,3747.9,2.648,3748.1,2.661,3748.4,2.639,3748.6,2.655,3748.9,2.650,3749.1,2.664,3749.3,2.638,3749.4,2.656,3749.6,2.647,3749.9,2.662,3750.1,2.651,3750.4,2.658,3750.6,2.644,3750.9,2.660,3751.1,2.653,3751.2,2.669,3751.2,2.671,3751.4,2.648,3751.6,2.635,3751.7,2.662,3751.9,2.655,3752.1,2.645,3752.4,2.659,3752.6,2.650,3752.9,2.664,3753.1,2.654,3753.3,2.639,3753.6,2.658,3753.8,2.649,3754.1,2.663,3754.3,2.652,3754.4,2.617,3754.6,2.646,3754.8,2.660,3755.1,2.653,3755.3,2.639,3755.6,2.657,3755.8,2.649,3756.1,2.663,3756.3,2.654,3756.4,2.608,3756.4,2.634,3756.6,2.645,3756.8,2.659,3757.1,2.651,
3759.2,2.640,3759.3,2.646,3759.4,2.634,3759.5,2.651,3759.6,2.622,3759.6,2.625,3759.7,2.638,3759.8,2.631,3760.0,2.645,3760.1,2.636,3760.3,2.649,3760.5,2.641,3760.6,2.654,3760.8,2.643,3760.9,2.637,3761.1,2.650,3761.3,2.645,3761.4,2.633,3761.6,2.648,3761.8,2.653,3761.9,2.641,3762.1,2.607,3762.1,2.656,3762.3,2.644,3762.4,2.665,3762.4,2.669,3762.6,2.650,3762.8,2.614,3762.8,2.638,3763.0,2.646,3763.1,2.630,3763.3,2.652,3763.5,2.644,3763.6,2.607,3763.6,2.620,3763.7,2.639,3763.9,2.649,3764.0,2.632,3764.1,2.655,3764.3,2.639,3764.5,2.620,
3765.0,2.652,3765.2,2.631,3765.3,2.658,3765.6,2.649,3765.8,2.662,3766.0,2.640,3766.1,2.655,3766.4,2.660,3766.6,2.645,3766.9,2.656,3767.1,2.664,3767.4,2.650,3767.6,2.642,3767.9,2.658,3768.1,2.653,3768.4,2.665,3768.6,2.640,3768.9,2.654,3769.1,2.662,3769.4,2.649,3769.6,2.667,3769.9,2.656,3770.1,2.645,3770.4,2.660,3770.6,2.651,3770.9,2.648,3771.1,2.657,3771.4,2.634,3771.4,2.663,3771.7,2.651,3771.9,2.656,
3772.2,2.650,3772.5,2.657,3772.7,2.646,3773.0,2.662,3773.2,2.625,3773.2,2.653,3773.4,2.628,3773.5,2.659,3773.6,2.600,3773.7,2.648,3774.0,2.656,3774.2,2.644,3774.5,2.661,3774.7,2.652,3775.0,2.658,3775.2,2.646,3775.5,2.663,3775.7,2.655,3776.0,2.642,3776.2,2.653,3776.5,2.660,3776.7,2.647,3777.0,2.655,3777.2,2.651,3777.5,2.662,3777.6,2.636,3777.7,2.644,3778.0,2.657,3778.2,2.650,3778.4,2.621,3778.5,2.661,3778.7,2.648,3779.0,2.656,3779.2,2.643,3779.5,2.652,3779.7,2.665,3780.0,2.650,3780.2,2.657,3780.5,2.646,3780.7,2.655,3781.0,2.649,3781.1,2.669,3781.4,2.671,3781.5,2.662,3781.7,2.644,3782.0,2.653,3782.2,2.641,3782.5,2.660,3782.7,2.646,3783.0,2.610,3783.0,2.637,3783.2,2.650,3783.4,2.633,3783.5,2.657,3783.7,2.643,3784.0,2.652,3784.2,2.647,3784.5,2.658,3784.7,2.640,3785.0,2.651,3785.2,2.645,3785.5,2.656,3785.7,2.639,3786.0,2.650,3786.2,2.644,3786.5,2.634,3786.6,2.605,3786.6,2.656,3786.8,2.648,3787.0,2.641,3787.2,2.652,3787.3,2.667,3787.4,2.638,3787.5,2.630,3787.6,2.646,3787.7,2.607,3787.8,2.659,3787.9,2.610,3788.0,2.643,3788.1,2.652,3788.2,2.620,3788.3,2.637,3788.5,2.649,3788.6,2.623,3788.7,2.641,3788.9,2.655,3789.0,2.634,3789.1,2.648,3789.3,2.660,3789.4,2.627,3789.5,2.618,3789.6,2.643,3789.7,2.652,3789.9,2.632,3790.0,2.646,3790.1,2.625,3790.2,2.658,3790.4,2.639,3790.5,2.651,3790.7,2.635,3790.8,2.662,3790.9,2.644,3791.1,2.654,3791.2,2.641,3791.3,2.664,3791.5,2.648,3791.6,2.659,3791.8,2.645,
3795.0,2.675,3795.1,2.671,3795.3,2.668,3795.5,2.662,3795.6,2.659,3795.7,2.665,3795.9,2.673,3796.0,2.660,3796.2,2.667,3796.3,2.654,3796.5,2.661,3796.6,2.680,3796.7,2.669,3796.9,2.658,3797.0,2.655,3797.2,2.664,3797.4,2.652,3797.5,2.660,3797.7,2.657,3797.8,2.666,3798.0,2.651,3798.2,2.662,3798.3,2.654,3798.5,2.659,3798.7,2.648,3798.8,2.656,3799.0,2.663,3799.1,2.650,3799.3,2.646,3799.4,2.658,3799.6,2.641,3799.6,2.683,3799.7,2.652,3799.9,2.660,3800.0,2.649,3800.2,2.655,3800.3,2.645,3800.5,2.653,3800.6,2.648,
3802.0,2.650,3802.2,2.646,3802.4,2.647,3802.5,2.654,3802.6,2.658,3802.8,2.651,3803.0,2.660,3803.1,2.665,3803.2,2.657,3803.4,2.668,3803.5,2.662,3803.7,2.671,3803.8,2.666,3804.0,2.675,3804.1,2.663,3804.2,2.669,3804.4,2.677,3804.5,2.658,3804.6,2.673,3804.8,2.680,3804.9,2.666,3805.0,2.643,3805.1,2.674,3805.3,2.678,3805.4,2.669,3805.5,2.682,3805.7,2.671,3805.8,2.676,3806.0,2.664,3806.1,2.627,3806.2,2.679,3806.3,2.672,3806.5,2.668,3806.6,2.681,3806.8,2.675,3806.9,2.670,3807.1,2.647,3807.1,2.678,3807.3,2.673,3807.4,2.684,3807.6,2.667,3807.7,2.677,3807.9,2.679,3808.0,2.671,3808.2,2.682,3808.3,2.675,3808.5,2.669,3808.6,2.684,3808.8,2.676,3808.9,2.672,3809.1,2.680,3809.2,2.665,3809.4,2.677,3809.5,2.670,3809.7,2.674,3809.8,2.663,3810.0,2.678,3810.1,2.668,3810.3,2.672,3810.4,2.661,3810.6,2.670,3810.7,2.666,3810.9,2.659,3811.0,2.673,3811.2,2.664,3811.3,2.657,3811.5,2.668,3811.6,2.661,3811.8,2.655,3811.9,2.665,3812.1,2.658,3812.2,2.652,3812.4,2.662,3812.5,2.655,3812.7,2.648,3812.8,2.658,3813.0,2.651,3813.1,2.645,3813.3,2.654,3813.4,2.647,3813.6,2.641,3813.7,2.650,3813.9,2.644,
3814.0,2.655,3814.1,2.648,3814.3,2.640,3814.4,2.652,3814.5,2.644,3814.7,2.637,3814.8,2.650,3815.0,2.606,3815.0,2.643,3815.1,2.610,3815.2,2.640,3815.3,2.655,3815.4,2.620,3815.5,2.646,3815.6,2.638,3815.8,2.651,3815.9,2.643,3816.0,2.636,3816.1,2.649,3816.3,2.600,3816.3,2.622,3816.4,2.641,3816.6,2.655,3816.7,2.646,3816.9,2.638,3817.0,2.652,3817.2,2.643,3817.3,2.617,3817.4,2.636,3817.5,2.649,3817.7,2.640,3817.8,2.657,3818.0,2.645,3818.1,2.634,3818.3,2.651,3818.4,2.643,3818.6,2.626,3818.7,2.648,3818.9,2.639,3819.0,2.654,3819.2,2.644,3819.3,2.635,3819.5,2.650,3819.6,2.641,3819.8,2.630,3819.9,2.647,3820.1,2.638,3820.2,2.599,3820.3,2.653,3820.4,2.643,3820.6,2.633,3820.7,2.649,3820.9,2.640,3821.0,2.656,3821.2,2.614,3821.2,2.645,3821.4,2.636,3821.5,2.651,3821.7,2.642,3821.8,2.631,3822.0,2.648,3822.1,2.639,3822.3,2.655,3822.4,2.644,3822.6,2.635,3822.7,2.650,3822.9,2.641,3823.0,2.660,3823.2,2.646,3823.3,2.637,3823.5,2.652,3823.6,2.643,3823.8,2.633,3823.9,2.659,3824.1,2.648,3824.2,2.638,3824.4,2.654,3824.5,2.644,3824.7,2.637,3824.8,2.651,3825.0,2.641,3825.1,2.657,3825.3,2.617,3825.3,2.646,3825.4,2.636,3825.6,2.653,3825.7,2.643,3825.9,2.649,3826.0,2.639,3826.2,2.647
];

// Corrected, further points on the edges of the band (all seasons)
const corSpread = [
3440.2,2.674,3441.3,2.650,3442.5,2.676,3443.5,2.648,3444.6,2.670,3445.8,2.645,3447.1,2.669,3448.3,2.641,3449.4,2.671,3450.6,2.643,3451.7,2.667,3452.9,2.639,3454.1,2.666,3455.2,2.640,3456.3,2.664,3457.6,2.637,3458.9,2.663,3460.2,2.638,3461.4,2.662,3462.7,2.636,3463.9,2.661,3465.1,2.635,3466.4,2.663,3467.4,2.638,3469.6,2.628,3470.9,2.655,3472.9,2.650,3474.4,2.632,3475.3,2.652,
3531.0,2.662,3532.6,2.641,3534.3,2.664,3535.9,2.639,3537.4,2.663,3539.1,2.638,3540.6,2.666,3542.1,2.640,3543.9,2.665,3545.6,2.638,3547.2,2.668,3548.8,2.639,3550.3,2.670,3552.0,2.640,3553.6,2.668,3557.5,2.670,3559.0,2.640,3560.6,2.673,3562.1,2.638,3563.6,2.675,3565.2,2.641,3566.7,2.669,3568.2,2.637,3569.8,2.666,3571.4,2.635,3573.0,2.668,3574.6,2.634,3576.1,2.670,3577.8,2.632,3579.4,2.666,3581.0,2.633,3582.6,2.668,3584.1,2.636,3585.7,2.665,3587.3,2.637,3588.9,2.667,3590.4,2.638,3592.0,2.664,3593.6,2.636,3595.2,2.663,3596.8,2.634,3598.3,2.662,3599.9,2.633,3601.5,2.664,3603.1,2.632,3604.6,2.662,3606.2,2.634,3607.8,2.664,3609.3,2.632,3610.9,2.661,3612.5,2.633,3614.1,2.663,3615.7,2.631,3619.6,2.660,3621.3,2.627,3622.8,2.657,3624.3,2.626,3625.8,2.655,3627.3,2.624,3628.8,2.654,3630.3,2.623,3631.8,2.652,3633.3,2.622,3634.8,2.651,3636.3,2.621,3637.8,2.650,3638.6,2.623,
3737.6,2.641,3739.0,2.667,3740.5,2.643,3742.1,2.670,3743.6,2.642,3745.1,2.668,3746.6,2.641,3748.2,2.669,3749.7,2.642,3751.3,2.668,3752.8,2.640,3754.3,2.667,3755.9,2.642,3757.0,2.666,3760.7,2.628,3762.2,2.660,3763.8,2.627,3766.3,2.668,3767.8,2.641,3769.3,2.670,3770.8,2.639,3772.4,2.668,3773.9,2.640,3775.4,2.669,3776.9,2.638,3778.6,2.667,3780.1,2.637,3781.6,2.665,3783.1,2.636,3784.6,2.664,3786.1,2.628,3787.5,2.656,3789.2,2.629,3790.6,2.658,3791.4,2.633,3795.8,2.650,3797.3,2.670,3798.8,2.643,3800.2,2.667,3814.6,2.660,3816.0,2.628,3817.6,2.662,3819.1,2.627,3820.8,2.661,3822.4,2.626,3823.9,2.662,3825.5,2.627
];

// PHOEBE 2.0 model light curve
const modelJD  = [3430, 3475.35, 3476.6, 3484.2, 3485.6, 3485.75, 3485.95, 3801.4, 3802.2, 3802.7, 3803.2, 3803.9, 3805.1, 3806.6, 3808.4, 3810.1, 3811.6, 3812.8, 3813.6, 3814.3, 3814.9, 3815.5, 3840];
const modelMag = [2.651, 2.651, 2.879, 2.879, 2.668, 2.655, 2.651, 2.651, 2.655, 2.662, 2.670, 2.676, 2.681, 2.683, 2.683, 2.682, 2.680, 2.675, 2.667, 2.658, 2.652, 2.651, 2.651];

// Axis ticks and labels
const xTickValues = [3450, 3500, 3550, 3600, 3650, 3700, 3750, 3800];
const yTickValues = [2.60, 2.65, 2.70, 2.75, 2.80, 2.85, 2.90];
const seriesNames = ["PHOEBE 2.0 model", "Cam 2 original", "corrected"];
const chartTitle = "SMEI observations";
const xLabel = "JD - 2450000 (d)";
const yLabel = "Gaia G mag";

// Notes above the axes, with the day each arrow points at
const noteLeft  = ["The 2005 eclipse happened too close to the", "Sun - this is the first clear observation of it:"];
const noteRight = ["Secondary eclipses were never observed", "before. This dip matches our models:"];
const arrowJD = [3481.55, 3808.2];
const arrowTailMag = 2.5396;
const arrowTipMag = 2.5872;

// ---------------------------------------------------------------------------
// Drawing
// ---------------------------------------------------------------------------
const W = 2962, H = 1358;
const box = { left: 166, right: 2929, top: 294, bottom: 1269 };
const FONT = "'DejaVu Sans', Verdana, sans-serif";
const SERIF = "'Liberation Serif', 'Times New Roman', serif";
const DOT_R = 4.8;

const x = d3.scaleLinear().domain([3430, 3840]).range([box.left, box.right]);
const y = d3.scaleLinear().domain([2.5701, 2.9196]).range([box.top, box.bottom]);

const svg = d3.select("#chart");
svg.append("rect").attr("width", W).attr("height", H).attr("fill", "#ffffff");

svg.append("defs").append("clipPath").attr("id", "plot-area")
  .append("rect")
  .attr("x", box.left).attr("y", box.top)
  .attr("width", box.right - box.left).attr("height", box.bottom - box.top);

const toPoints = flat => d3.range(0, flat.length, 2).map(i => [flat[i], flat[i + 1]]);
const originalPts = [camA, camEclipse, camB, camC, camSpread].flatMap(toPoints);
const correctedPts = [corA, corEclipse, corB, corC, corSpread].flatMap(toPoints);

const plot = svg.append("g").attr("clip-path", "url(#plot-area)");

plot.append("g")
  .attr("fill", "#808080").attr("fill-opacity", 0.85)
  .selectAll("circle").data(originalPts).join("circle")
  .attr("cx", d => x(d[0])).attr("cy", d => y(d[1])).attr("r", DOT_R);

plot.append("g")
  .attr("fill", "#008000")
  .selectAll("circle").data(correctedPts).join("circle")
  .attr("cx", d => x(d[0])).attr("cy", d => y(d[1])).attr("r", DOT_R);

plot.append("path")
  .datum(d3.zip(modelJD, modelMag))
  .attr("fill", "none").attr("stroke", "#000000").attr("stroke-width", 2.6)
  .attr("stroke-linejoin", "round")
  .attr("d", d3.line().x(d => x(d[0])).y(d => y(d[1])));

// Axes: major ticks with labels, minor ticks without
function styleAxis(g, fontSize) {
  g.select(".domain").remove();
  g.attr("font-family", FONT).attr("font-size", fontSize);
  g.selectAll(".tick line").attr("stroke", "#000000").attr("stroke-width", 2);
  g.selectAll(".tick text").attr("fill", "#000000");
}

const xMinorValues = d3.range(3440, 3840, 10).filter(v => !xTickValues.includes(v));
const yMinorValues = d3.range(258, 292).map(v => v / 100).filter(v => Math.round(v * 100) % 5 !== 0);

svg.append("g").attr("transform", `translate(0,${box.bottom})`)
  .call(d3.axisBottom(x).tickValues(xMinorValues).tickFormat("").tickSize(5).tickSizeOuter(0))
  .call(g => styleAxis(g, 32));
svg.append("g").attr("transform", `translate(0,${box.bottom})`)
  .call(d3.axisBottom(x).tickValues(xTickValues).tickFormat(d3.format("d")).tickSize(9).tickPadding(7).tickSizeOuter(0))
  .call(g => styleAxis(g, 32));

svg.append("g").attr("transform", `translate(${box.left},0)`)
  .call(d3.axisLeft(y).tickValues(yMinorValues).tickFormat("").tickSize(5).tickSizeOuter(0))
  .call(g => styleAxis(g, 32));
svg.append("g").attr("transform", `translate(${box.left},0)`)
  .call(d3.axisLeft(y).tickValues(yTickValues).tickFormat(d3.format(".2f")).tickSize(9).tickPadding(9).tickSizeOuter(0))
  .call(g => styleAxis(g, 32));

// Frame
svg.append("rect")
  .attr("x", box.left).attr("y", box.top)
  .attr("width", box.right - box.left).attr("height", box.bottom - box.top)
  .attr("fill", "none").attr("stroke", "#000000").attr("stroke-width", 2.2);

// Title and axis labels
svg.append("text").attr("x", (box.left + box.right) / 2).attr("y", 285)
  .attr("text-anchor", "middle").attr("font-family", FONT).attr("font-size", 39)
  .attr("fill", "#000000").text(chartTitle);

svg.append("text").attr("x", (box.left + box.right) / 2).attr("y", 1349)
  .attr("text-anchor", "middle").attr("font-family", FONT).attr("font-size", 36.5)
  .attr("fill", "#000000").text(xLabel);

svg.append("text")
  .attr("transform", `translate(68,${(box.top + box.bottom) / 2}) rotate(-90)`)
  .attr("text-anchor", "middle").attr("font-family", FONT).attr("font-size", 36.5)
  .attr("fill", "#000000").text(yLabel);

// Legend
const legend = svg.append("g").attr("font-family", FONT).attr("font-size", 31);
legend.append("rect")
  .attr("x", 2515).attr("y", 1107).attr("width", 400).attr("height", 147).attr("rx", 7)
  .attr("fill", "#ffffff").attr("fill-opacity", 0.8)
  .attr("stroke", "#cccccc").attr("stroke-width", 2);
legend.append("line")
  .attr("x1", 2525).attr("x2", 2589).attr("y1", 1132).attr("y2", 1132)
  .attr("stroke", "#000000").attr("stroke-width", 2.6);
legend.append("circle").attr("cx", 2558).attr("cy", 1179).attr("r", DOT_R)
  .attr("fill", "#808080").attr("fill-opacity", 0.85);
legend.append("circle").attr("cx", 2558).attr("cy", 1224.5).attr("r", DOT_R)
  .attr("fill", "#008000");
legend.selectAll("text.entry").data(seriesNames).join("text")
  .attr("class", "entry")
  .attr("x", 2614).attr("y", (d, i) => 1144 + i * 45.5)
  .attr("fill", "#000000").text(d => d);

// Red notes and arrows; each line is fitted to its measured width
const noteWidthsLeft = [1105, 1096];
const noteWidthsRight = [1013, 946];
const notes = svg.append("g").attr("font-family", SERIF).attr("font-size", 64).attr("fill", "#ff0000");
notes.selectAll("text.left").data(noteLeft).join("text").attr("class", "left")
  .attr("x", 172).attr("y", (d, i) => 82.7 + i * 74)
  .attr("textLength", (d, i) => noteWidthsLeft[i]).attr("lengthAdjust", "spacingAndGlyphs")
  .text(d => d);
notes.selectAll("text.right").data(noteRight).join("text").attr("class", "right")
  .attr("x", 1890).attr("y", (d, i) => 82.7 + i * 74)
  .attr("textLength", (d, i) => noteWidthsRight[i]).attr("lengthAdjust", "spacingAndGlyphs")
  .text(d => d);

const arrows = svg.append("g");
arrowJD.forEach(jd => {
  const ax = x(jd), y0 = y(arrowTailMag), y1 = y(arrowTipMag);
  const headLen = 19, headHalf = 9.2;
  arrows.append("line")
    .attr("x1", ax).attr("x2", ax).attr("y1", y0).attr("y2", y1 - headLen + 1)
    .attr("stroke", "#ff0000").attr("stroke-width", 5.5);
  arrows.append("path")
    .attr("d", `M${ax - headHalf},${y1 - headLen} L${ax + headHalf},${y1 - headLen} L${ax},${y1} Z`)
    .attr("fill", "#ff0000");
});
</script>
</body>
</html>
